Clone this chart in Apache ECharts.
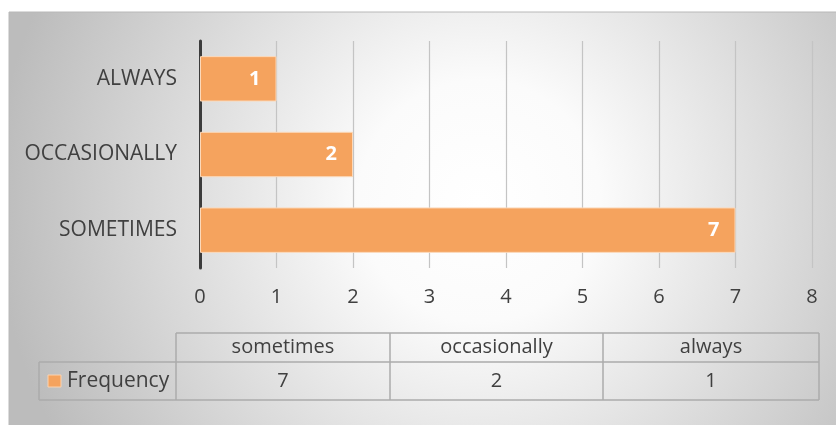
<!DOCTYPE html>
<html>
<head>
<meta charset="utf-8">
<script src="https://cdn.jsdelivr.net/npm/echarts@6/dist/echarts.min.js"></script>
<style>
  html, body { margin: 0; padding: 0; background: #ffffff; }
  #chart { width: 836px; height: 425px; }
</style>
</head>
<body>
<div id="chart"></div>
<script>
// Responses, listed bottom-to-top on the category axis
const categories = ['SOMETIMES', 'OCCASIONALLY', 'ALWAYS'];
const frequency = [7, 2, 1];
const seriesName = 'Frequency';
// Data table beneath the plot (column order as in the table)
const tableHeaders = ['sometimes', 'occasionally', 'always'];
const tableValues = [7, 2, 1];
const xTicks = [0, 1, 2, 3, 4, 5, 6, 7, 8];

const FONT = '"Open Sans", "Noto Sans", sans-serif';
const TEXT = '#404040';
const BAR = '#F5A35E';
const LINE = '#ababab';

const chart = echarts.init(document.getElementById('chart'), null, { renderer: 'canvas' });

// Data table layout
const colX = [176, 390, 603, 819];
const rowY = [333, 362, 400];
const legendLeft = 39;

const tableGraphics = [];
// horizontal rules
tableGraphics.push({ type: 'line', shape: { x1: colX[0], y1: rowY[0], x2: colX[3], y2: rowY[0] }, style: { stroke: LINE, lineWidth: 1.5 } });
tableGraphics.push({ type: 'line', shape: { x1: legendLeft, y1: rowY[1], x2: colX[3], y2: rowY[1] }, style: { stroke: LINE, lineWidth: 1.5 } });
tableGraphics.push({ type: 'line', shape: { x1: legendLeft, y1: rowY[2], x2: colX[3], y2: rowY[2] }, style: { stroke: LINE, lineWidth: 1.5 } });
// vertical rules
tableGraphics.push({ type: 'line', shape: { x1: legendLeft, y1: rowY[1], x2: legendLeft, y2: rowY[2] }, style: { stroke: LINE, lineWidth: 1.5 } });
colX.forEach(function (x) {
  tableGraphics.push({ type: 'line', shape: { x1: x, y1: rowY[0], x2: x, y2: rowY[2] }, style: { stroke: LINE, lineWidth: 1.5 } });
});
// header and value cells
tableHeaders.forEach(function (h, i) {
  const cx = (colX[i] + colX[i + 1]) / 2;
  tableGraphics.push({ type: 'text', x: cx, y: (rowY[0] + rowY[1]) / 2,
    style: { text: h, fill: TEXT, font: '20px ' + FONT, align: 'center', verticalAlign: 'middle' } });
  tableGraphics.push({ type: 'text', x: cx, y: (rowY[1] + rowY[2]) / 2,
    style: { text: String(tableValues[i]), fill: TEXT, font: '20px ' + FONT, align: 'center', verticalAlign: 'middle' } });
});
// legend key cell
tableGraphics.push({ type: 'rect', shape: { x: 48, y: 375, width: 13, height: 12 },
  style: { fill: BAR, stroke: '#fbd3b0', lineWidth: 1 } });
tableGraphics.push({ type: 'text', x: 67, y: (rowY[1] + rowY[2]) / 2,
  style: { text: seriesName, fill: TEXT, font: '21px ' + FONT, align: 'left', verticalAlign: 'middle' } });

const option = {
  animation: false,
  graphic: [
    {
      type: 'rect', z: -100, silent: true,
      shape: { x: 9, y: 12, width: 840, height: 420 },
      style: {
        fill: new echarts.graphic.RadialGradient(0.56, 0.45, 1.15, [
          { offset: 0, color: '#ffffff' },
          { offset: 0.25, color: '#fbfbfb' },
          { offset: 1, color: '#bcbcbc' }
        ]),
        stroke: '#b8b8b8', lineWidth: 1
      }
    }
  ].concat(tableGraphics),
  grid: { left: 200, right: 24, top: 41, bottom: 157, containLabel: false },
  xAxis: {
    type: 'value', min: 0, max: 8, interval: 1,
    axisLine: { show: false },
    axisTick: { show: false },
    splitLine: { show: true, lineStyle: { color: '#c4c4c4', width: 1.2 } },
    axisLabel: {
      color: TEXT, fontFamily: FONT, fontSize: 20, margin: 19,
      formatter: function (v) { return xTicks.indexOf(v) >= 0 ? String(v) : ''; }
    }
  },
  yAxis: {
    type: 'category', data: categories,
    axisLine: { show: true, lineStyle: { color: '#3c3c3c', width: 3 } },
    axisTick: { show: false },
    axisLabel: { color: TEXT, fontFamily: FONT, fontSize: 21, margin: 23 }
  },
  series: [{
    name: seriesName,
    type: 'bar',
    data: frequency,
    barWidth: '60%',
    itemStyle: { color: BAR, borderColor: '#fcd9ba', borderWidth: 1 },
    label: {
      show: true, position: 'insideRight', distance: 16,
      color: '#ffffff', fontWeight: 'bold', fontFamily: FONT, fontSize: 20
    }
  }]
};

chart.setOption(option);
</script>
</body>
</html>
